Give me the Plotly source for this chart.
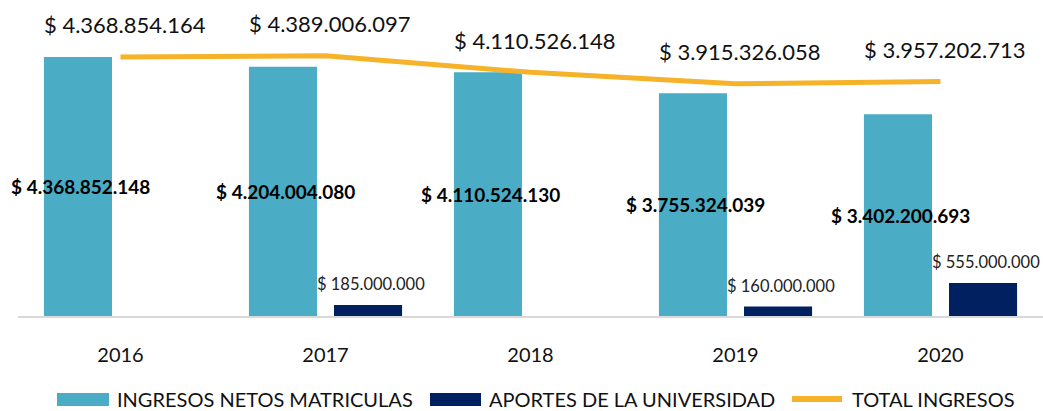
import plotly.graph_objects as go

years = ["2016", "2017", "2018", "2019", "2020"]
matriculas = [4368852148, 4204004080, 4110524130, 3755324039, 3402200693]
aportes = [0, 185000000, 0, 160000000, 555000000]
total = [4368854164, 4389006097, 4110526148, 3915326058, 3957202713]

names = ["INGRESOS NETOS MATRICULAS", "APORTES DE LA UNIVERSIDAD", "TOTAL INGRESOS"]

TEAL = "#4BACC6"
NAVY = "#002060"
GOLD = "#F6B228"
FONT = "Lato, Open Sans, sans-serif"

W, H = 1043, 411
ML, MR, MT, MB = 18, 0, 0, 95
PW = W - ML - MR
PH = H - MT - MB


def pesos(v):
    return "$ " + f"{v:,}".replace(",", ".")


def px_x(px):
    return (px - ML) / PW


def px_y(py):
    return (H - MB - py) / PH


fig = go.Figure()

fig.add_trace(go.Bar(
    x=years, y=matriculas, name=names[0],
    marker=dict(color=TEAL, line=dict(width=0)),
))
fig.add_trace(go.Bar(
    x=years, y=aportes, name=names[1],
    marker=dict(color=NAVY, line=dict(width=0)),
))
fig.add_trace(go.Scatter(
    x=years, y=total, name=names[2], mode="lines",
    line=dict(color=GOLD, width=5),
))

# bold values centred on the tuition bars (category index as x)
for i, v in enumerate(matriculas):
    fig.add_annotation(
        x=i, y=v / 2, text="<b>" + pesos(v) + "</b>", showarrow=False,
        xshift=-40, font=dict(family=FONT, size=19, color="#000000"),
    )

# values above the university contribution bars
for i, v in enumerate(aportes):
    if v:
        fig.add_annotation(
            x=i, y=v, text=pesos(v), showarrow=False, yanchor="middle",
            xshift=45, yshift=21, font=dict(family=FONT, size=16.5, color="#222222"),
        )

# totals above the line
for i, v in enumerate(total):
    fig.add_annotation(
        x=i, y=v, text=pesos(v), showarrow=False,
        yshift=32, xshift=4, font=dict(family=FONT, size=22, color="#111111"),
    )

# legend row drawn beneath the axis
legend_y = px_y(399)
legend_items = [
    ("rect", TEAL, 57, 109, 115, names[0]),
    ("rect", NAVY, 430, 481, 487, names[1]),
    ("line", GOLD, 789, 845, 850, names[2]),
]
for kind, color, x0, x1, tx, label in legend_items:
    if kind == "rect":
        fig.add_shape(
            type="rect", xref="paper", yref="paper",
            x0=px_x(x0), x1=px_x(x1), y0=px_y(406), y1=px_y(393),
            fillcolor=color, line=dict(width=0),
        )
    else:
        fig.add_shape(
            type="line", xref="paper", yref="paper",
            x0=px_x(x0 + 3), x1=px_x(x1 - 3), y0=legend_y, y1=legend_y,
            line=dict(color=color, width=6),
        )
    fig.add_annotation(
        xref="paper", yref="paper", x=px_x(tx), y=legend_y,
        xanchor="left", yanchor="middle", text=label, showarrow=False,
        font=dict(family=FONT, size=20, color="#111111"),
    )

fig.update_layout(
    width=W, height=H,
    margin=dict(l=ML, r=MR, t=MT, b=MB, autoexpand=False),
    paper_bgcolor="white", plot_bgcolor="white",
    barmode="group", bargap=0.17, bargroupgap=0.2,
    font=dict(family=FONT, color="#111111"),
    showlegend=False,
    xaxis=dict(
        type="category", range=[-0.5, len(years) - 0.5],
        showgrid=False, showline=True, linecolor="#D9D9D9",
        linewidth=2, ticks="", tickfont=dict(family=FONT, size=20, color="#111111"),
        ticklabelstandoff=20,
    ),
    yaxis=dict(
        range=[0, 5.33e9], visible=False, showgrid=False, zeroline=False,
    ),
)

fig.write_html("out.html")
